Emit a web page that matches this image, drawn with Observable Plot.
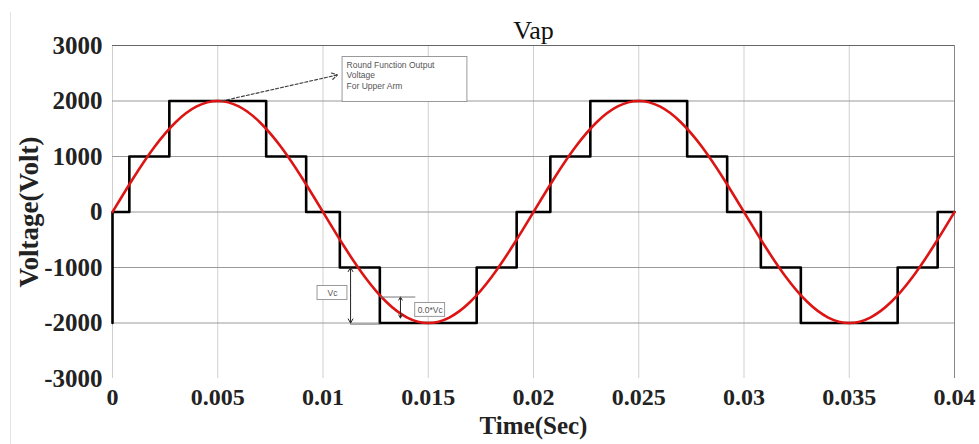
<!DOCTYPE html>
<html>
<head>
<meta charset="utf-8">
<script src="https://cdn.jsdelivr.net/npm/d3@7"></script>
<script src="https://cdn.jsdelivr.net/npm/@observablehq/plot@0.6"></script>
<style>
  html, body { margin: 0; padding: 0; background: #fff; }
  #chart { position: relative; width: 979px; height: 444px; }
  #chart::before { content: ""; position: absolute; left: 10px; top: 12px; bottom: 0; border-left: 1px solid #e4e4e4; }
</style>
</head>
<body>
<div id="chart"></div>
<script>
// --- data ---
const sineTime = [0,0.001,0.002,0.003,0.004,0.005,0.006,0.007,0.008,0.009,0.010,0.011,0.012,0.013,0.014,0.015,0.016,0.017,0.018,0.019,0.020,0.021,0.022,0.023,0.024,0.025,0.026,0.027,0.028,0.029,0.030,0.031,0.032,0.033,0.034,0.035,0.036,0.037,0.038,0.039,0.040];
const sineVolt = [0,618,1176,1618,1902,2000,1902,1618,1176,618,0,-618,-1176,-1618,-1902,-2000,-1902,-1618,-1176,-618,0,618,1176,1618,1902,2000,1902,1618,1176,618,0,-618,-1176,-1618,-1902,-2000,-1902,-1618,-1176,-618,0];

const stepTime = [0,0,0.0008,0.0027,0.0073,0.0092,0.0108,0.0127,0.0173,0.0192,0.0208,0.0227,0.0273,0.0292,0.0308,0.0327,0.0373,0.0392,0.040];
const stepVolt = [-2000,0,1000,2000,1000,0,-1000,-2000,-1000,0,1000,2000,1000,0,-1000,-2000,-1000,0,0];

const xTicks = [0,0.005,0.01,0.015,0.02,0.025,0.03,0.035,0.04];
const xTickLabels = ["0","0.005","0.01","0.015","0.02","0.025","0.03","0.035","0.04"];
const yTicks = [-3000,-2000,-1000,0,1000,2000,3000];
const yTickLabels = ["-3000","-2000","-1000","0","1000","2000","3000"];

const titleText = "Vap";
const xLabel = "Time(Sec)";
const yLabel = "Voltage(Volt)";

// annotation anchors (data units)
const noteLines = ["Round Function Output", "Voltage", "For Upper Arm"];
const noteLineY = [2650, 2470, 2270];
const noteBox = {x1: 0.01093, x2: 0.01686, y1: 1982, y2: 2793};
const noteArrow = {x1: 0.0052, y1: 2000, x2: 0.01069, y2: 2470};
const vcBox = {x1: 0.00974, x2: 0.01116, y1: -1586, y2: -1333, label: "Vc"};
const vcArrowX = 0.01131, vcMid = -1500, vcTop = -1000, vcBottom = -2000;
const vcBaseLine = {x1: 0.01131, x2: 0.01274, y: -2020};
const kArrowX = 0.01368, kMid = -1720, kTop = -1532, kBottom = -1910;
const kBaseLine = {x1: 0.01274, x2: 0.01441, y: -1532};
const kBox = {x1: 0.01438, x2: 0.01580, y1: -1890, y2: -1640, label: "0.0*Vc"};

// --- build ---
const sine = sineTime.map((t, i) => ({t, v: sineVolt[i]}));
const steps = stepTime.map((t, i) => ({t, v: stepVolt[i]}));
const xFmt = d => xTickLabels[xTicks.indexOf(d)];
const yFmt = d => yTickLabels[yTicks.indexOf(d)];
const sans = "'Liberation Sans', Arial, sans-serif";

const plot = Plot.plot({
  width: 979,
  height: 444,
  marginLeft: 112,
  marginRight: 25,
  marginTop: 45,
  marginBottom: 66,
  style: {fontFamily: "'Liberation Serif', 'Times New Roman', serif", background: "#fff", color: "#222"},
  x: {domain: [0, 0.04]},
  y: {domain: [-3000, 3000]},
  marks: [
    Plot.ruleX(xTicks, {stroke: "#cfcfcf", strokeWidth: 1}),
    Plot.ruleX([0.04], {stroke: "#888", strokeWidth: 1}),
    Plot.ruleY(yTicks.filter(d => d > -3000), {stroke: "#9a9a9a", strokeWidth: 1}),
    Plot.ruleY([3000], {stroke: "#666", strokeWidth: 1.2}),
    Plot.axisX({ticks: xTicks, tickFormat: xFmt, tickSize: 0, tickPadding: 9, fontSize: 24, fontWeight: "bold", label: null}),
    Plot.axisY({ticks: yTicks, tickFormat: yFmt, tickSize: 0, tickPadding: 10, fontSize: 25, fontWeight: "bold", label: null}),
    Plot.line(steps, {x: "t", y: "v", curve: "step-after", stroke: "#000", strokeWidth: 2.6}),
    Plot.line(sine, {x: "t", y: "v", curve: "natural", stroke: "#dd1414", strokeWidth: 2.6}),
    // annotation: round function note
    Plot.rect([noteBox], {x1: "x1", x2: "x2", y1: "y1", y2: "y2", fill: "#fff", stroke: "#999", strokeWidth: 1}),
    Plot.text(noteLines, {x: noteBox.x1, y: (d, i) => noteLineY[i], text: d => d, textAnchor: "start", dx: 4, fontSize: 8.5, fill: "#555", fontFamily: sans}),
    Plot.arrow([noteArrow], {x1: "x1", y1: "y1", x2: "x2", y2: "y2", stroke: "#444", strokeWidth: 1.2, strokeDasharray: "3,2", headLength: 8}),
    // Vc annotation
    Plot.rect([vcBox], {x1: "x1", x2: "x2", y1: "y1", y2: "y2", fill: "#fff", stroke: "#999", strokeWidth: 1}),
    Plot.text([vcBox], {x: d => (d.x1 + d.x2) / 2, y: d => (d.y1 + d.y2) / 2, text: "label", fontSize: 8.5, fill: "#555", fontFamily: sans}),
    Plot.arrow([{x: vcArrowX, y1: vcMid, y2: vcTop}, {x: vcArrowX, y1: vcMid, y2: vcBottom}], {x1: "x", x2: "x", y1: "y1", y2: "y2", stroke: "#222", strokeWidth: 1, headLength: 7}),
    Plot.ruleY([vcBaseLine], {x1: "x1", x2: "x2", y: "y", stroke: "#777", strokeWidth: 1}),
    // 0.0*Vc annotation
    Plot.arrow([{x: kArrowX, y1: kMid, y2: kTop}, {x: kArrowX, y1: kMid, y2: kBottom}], {x1: "x", x2: "x", y1: "y1", y2: "y2", stroke: "#222", strokeWidth: 1, headLength: 6}),
    Plot.ruleY([kBaseLine], {x1: "x1", x2: "x2", y: "y", stroke: "#777", strokeWidth: 1}),
    Plot.rect([kBox], {x1: "x1", x2: "x2", y1: "y1", y2: "y2", fill: "#fff", stroke: "#999", strokeWidth: 1}),
    Plot.text([kBox], {x: d => (d.x1 + d.x2) / 2, y: d => (d.y1 + d.y2) / 2, text: "label", fontSize: 8.5, fill: "#555", fontFamily: sans}),
    // titles
    Plot.text([titleText], {frameAnchor: "top", textAnchor: "middle", dy: -25, fontSize: 26, fill: "#111", fontWeight: "normal"}),
    Plot.text([xLabel], {frameAnchor: "bottom", textAnchor: "middle", dy: 55, fontSize: 25, fontWeight: "bold", fill: "#222"}),
    Plot.text([yLabel], {frameAnchor: "left", textAnchor: "middle", dx: -83, rotate: -90, fontSize: 27, fontWeight: "bold", fill: "#222"})
  ]
});
document.getElementById("chart").appendChild(plot);
</script>
</body>
</html>
